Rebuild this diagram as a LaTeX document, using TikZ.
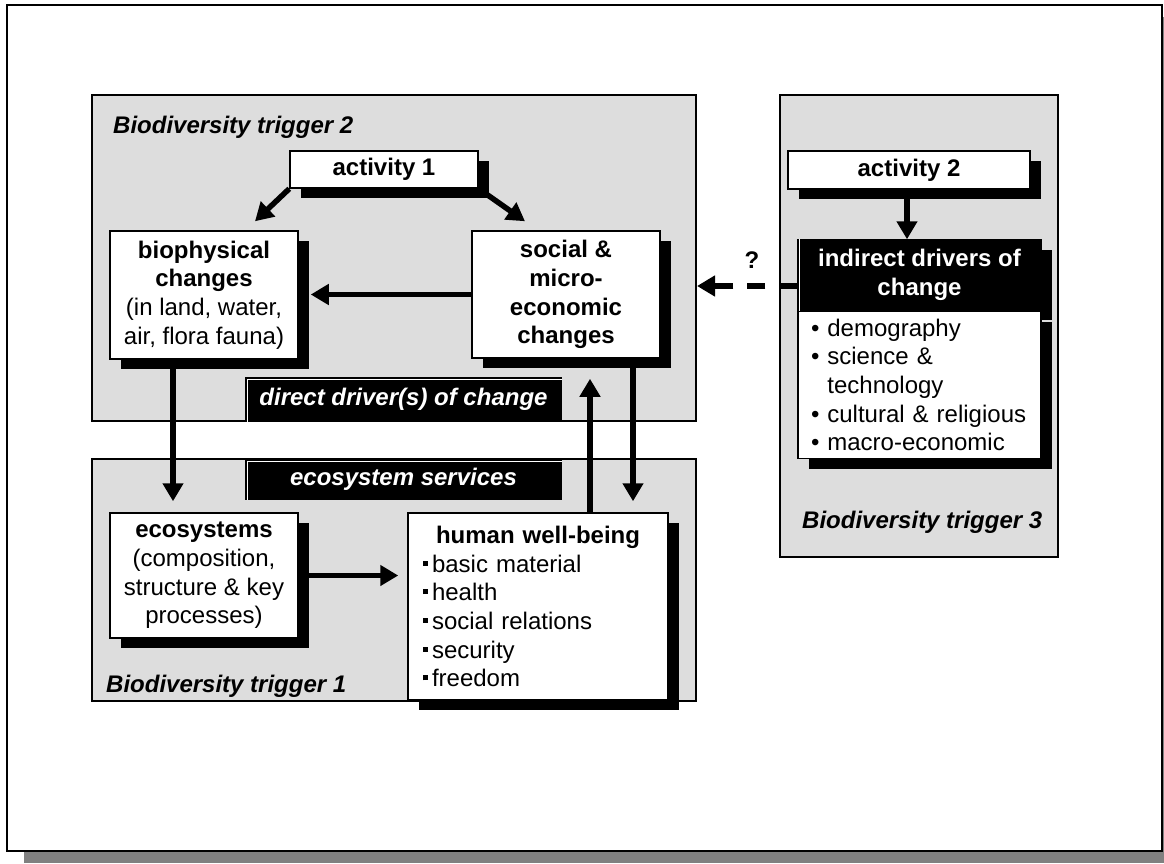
\documentclass[tikz,border=0pt]{standalone}
\usepackage{fontspec}
\setmainfont{Liberation Sans}
\usepackage{xcolor}
\usepackage{tikz}
\usetikzlibrary{positioning,shadows,arrows.meta}

\definecolor{panelgray}{RGB}{221,221,221}
\definecolor{edgegray}{RGB}{128,128,128}
\newcommand{\diagfont}{\fontsize{24}{28.7}\selectfont}
\newcommand{\sqbul}{\rule[6.5pt]{5pt}{5pt}\hspace{4pt}}

\tikzset{
  panel/.style={draw, line width=2pt, fill=panelgray, inner sep=0pt},
  box/.style={draw, line width=1.5pt, fill=white, inner sep=0pt, align=center, font=\diagfont,
    general shadow={fill=black, shadow xshift=11pt, shadow yshift=-10pt}},
  tag/.style={draw, line width=1.5pt, fill=black, text=white, inner sep=0pt,
    minimum width=315pt, font=\diagfont\bfseries\itshape},
  trig/.style={anchor=base west, inner sep=0pt, font=\diagfont\bfseries\itshape},
  flow/.style={line width=5.5pt, -{Triangle[length=18pt,width=20pt]}},
}

\begin{document}
\begin{tikzpicture}[x=1pt, y=-1pt]
  \useasboundingbox (0,0) rectangle (1164,863);
  % Page frame
  \fill[edgegray] (24,17) rectangle (1164,863);
  \draw[line width=2pt, fill=white] (7,5) rectangle (1162,851);
  % Define panels
  \node[panel, minimum width=604pt, minimum height=326pt] (trig2) at (394,258) {};
  \node[panel, minimum width=604pt, minimum height=242pt] (trig1) at (394,580) {};
  \node[panel, minimum width=278pt, minimum height=462pt] (trig3) at (919,326) {};
  \node[trig] (lab2) at (113,133) {Biodiversity trigger 2};
  \node[trig] (lab1) at (106,692) {Biodiversity trigger 1};
  \node[trig] (lab3) at (802,528) {Biodiversity trigger 3};
  % Define nodes
  \node[box, minimum width=188pt, minimum height=37pt] (act1) at (384,169.5) {\textbf{activity 1}};
  \node[box, minimum width=188pt, minimum height=128pt] (bio) at (204,295)
    {\textbf{biophysical}\\\textbf{changes}\\(in land, water,\\air, flora fauna)};
  \node[box, minimum width=188pt, minimum height=127pt] (social) at (566,294.5)
    {\textbf{social \&}\\\textbf{micro-}\\\textbf{economic}\\\textbf{changes}};
  \node[box, minimum width=188pt, minimum height=125pt] (eco) at (204,575.5)
    {\textbf{ecosystems}\\(composition,\\structure \& key\\processes)};
  \node[box, minimum width=260pt, minimum height=187pt, text width=230pt, align=left] (hwb) at (538,606.5)
    {{\centering\bfseries human well-being\par}%
     \sqbul basic material\\\sqbul health\\\sqbul social relations\\\sqbul security\\\sqbul freedom};
  \node[box, minimum width=242pt, minimum height=38pt] (act2) at (909,170) {\textbf{activity 2}};
  \node[box, fill=black, text=white, minimum width=243pt, minimum height=70pt] (indirect) at (919.5,275)
    {\textbf{indirect drivers of}\\\textbf{change}};
  \node[box, below=0pt of indirect, minimum width=243pt, minimum height=147pt, text width=217pt, align=left] (drivers)
    {\textbullet\ demography\\\textbullet\ science \&\\\hphantom{\textbullet\ }technology\\
     \textbullet\ cultural \& religious\\\textbullet\ macro-economic};
  \node[tag, minimum height=43pt] (ddc) at (403.5,399.5) {direct driver(s) of change};
  \node[tag, minimum height=39pt] (ecoserv) at (403.5,479.5) {ecosystem services};
  \draw[white, line width=1pt] ([xshift=2.5pt]ddc.south west) |- ([yshift=-2.5pt]ddc.north east);
  \draw[white, line width=1pt] ([xshift=2.5pt]ecoserv.south west) |- ([yshift=-2.5pt]ecoserv.north east);
  \draw[white, line width=1pt] ([xshift=2.5pt]indirect.south west) -- ([xshift=2.5pt]indirect.north west);
  \node[anchor=base, inner sep=0pt, font=\diagfont\bfseries] (qmark) at (752,268) {?};
  % Edges
  \draw[flow] (act1.south west) -- ([xshift=51pt,yshift=9pt]bio.north);
  \draw[flow] (act1.south east) -- ([xshift=-41pt,yshift=9pt]social.north);
  \draw[flow, shorten >=12pt] (social.west) -- (social.west -| bio.east);
  \draw[flow, shorten >=11pt] ([xshift=-31pt]bio.south) -- ([xshift=-31pt]bio.south |- eco.north);
  \draw[flow, shorten >=9pt] (eco.east) -- (eco.east -| hwb.west);
  \draw[flow] ([xshift=52pt]hwb.north) -- ([xshift=24pt,yshift=-20pt]social.south);
  \draw[flow, shorten >=11pt] ([xshift=67pt]social.south) -- ([xshift=67pt]social.south |- hwb.north);
  \draw[flow] ([xshift=-2pt]act2.south) -- ([xshift=-2pt]act2.south |- indirect.north);
  \draw[flow, dash pattern=on 18pt off 14pt] ([yshift=-11pt]indirect.west) -- ([yshift=-11pt]indirect.west -| trig2.east);
\end{tikzpicture}
\end{document}
